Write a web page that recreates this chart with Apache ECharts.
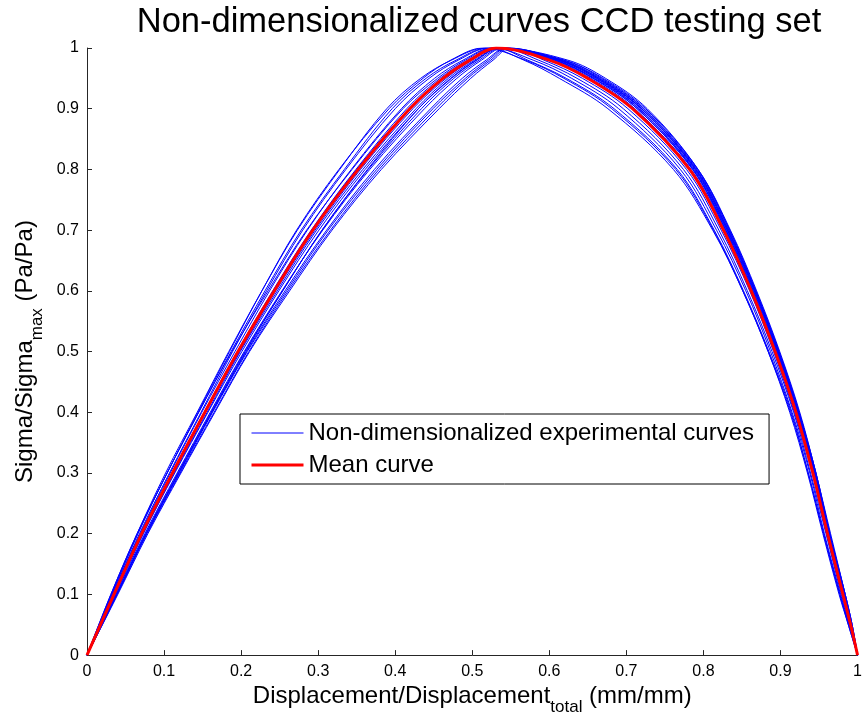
<!DOCTYPE html>
<html>
<head>
<meta charset="utf-8">
<script src="https://cdn.jsdelivr.net/npm/echarts@6/dist/echarts.min.js"></script>
<style>
  html, body { margin: 0; padding: 0; background: #fff; }
  #chart { width: 865px; height: 721px; }
</style>
</head>
<body>
<div id="chart"></div>
<script>
// Stress levels (Sigma/Sigma_max) at which each curve's displacement is sampled:
// rising branch up to the peak, then the falling branch back to zero.
const LEVELS = [0, 0.1, 0.2, 0.3, 0.4, 0.5, 0.6, 0.7, 0.8, 0.9, 0.95, 0.98, 1,
                0.98, 0.95, 0.9, 0.8, 0.7, 0.6, 0.5, 0.4, 0.3, 0.2, 0.1, 0.05, 0];

// Displacement/Displacement_total of each experimental curve at those levels
const EXP_01 = [0, .032,.066,.104,.144,.185,.227,.272,.327,.392,.436,.472,.514, .569,.619,.681,.764,.813,.851,.884,.913,.936,.956,.977,.988, 1];
const EXP_02 = [0, .031,.065,.102,.143,.184,.227,.273,.328,.389,.433,.473,.517, .611,.661,.717,.788,.831,.866,.896,.922,.944,.963,.983,.992, 1];
const EXP_03 = [0, .032,.066,.104,.145,.187,.231,.278,.334,.396,.440,.479,.520, .567,.613,.676,.761,.812,.851,.884,.912,.935,.955,.976,.988, 1];
const EXP_04 = [0, .033,.068,.107,.148,.189,.233,.280,.336,.400,.444,.482,.522, .618,.668,.723,.792,.834,.868,.898,.924,.946,.964,.984,.993, 1];
const EXP_05 = [0, .033,.069,.108,.149,.192,.237,.286,.343,.408,.451,.488,.526, .579,.629,.690,.770,.817,.855,.887,.915,.938,.957,.978,.989, 1];
const EXP_06 = [0, .031,.065,.104,.145,.188,.235,.285,.344,.410,.455,.491,.527, .614,.664,.720,.790,.832,.867,.897,.923,.945,.963,.983,.992, 1];
const EXP_07 = [0, .034,.070,.110,.152,.195,.241,.291,.349,.415,.458,.494,.529, .607,.657,.714,.786,.829,.864,.895,.922,.943,.962,.982,.992, 1];
const EXP_08 = [0, .036,.072,.112,.154,.196,.242,.292,.350,.418,.462,.497,.531, .572,.622,.684,.766,.814,.852,.885,.914,.936,.956,.977,.989, 1];
const EXP_09 = [0, .035,.072,.112,.154,.198,.245,.296,.355,.423,.466,.500,.533, .620,.670,.725,.793,.835,.869,.899,.925,.946,.965,.984,.993, 1];
const EXP_10 = [0, .036,.073,.113,.156,.199,.247,.298,.358,.427,.469,.503,.535, .604,.654,.711,.784,.828,.863,.894,.921,.943,.962,.982,.991, 1];
const EXP_11 = [0, .036,.073,.114,.157,.201,.249,.301,.361,.430,.473,.506,.536, .616,.666,.722,.791,.833,.867,.898,.924,.945,.964,.983,.992, 1];
const EXP_12 = [0, .039,.077,.119,.162,.206,.254,.305,.365,.434,.476,.509,.538, .586,.636,.696,.774,.820,.857,.889,.917,.939,.959,.979,.990, 1];
const EXP_13 = [0, .037,.075,.117,.160,.204,.253,.306,.367,.438,.480,.512,.540, .609,.659,.716,.787,.830,.865,.896,.922,.944,.963,.982,.992, 1];
const EXP_14 = [0, .038,.076,.118,.161,.205,.254,.305,.364,.430,.472,.505,.535, .624,.673,.727,.793,.834,.868,.898,.924,.946,.964,.984,.993, 1];
const EXP_15 = [0, .038,.077,.119,.162,.207,.257,.311,.373,.446,.487,.518,.544, .607,.657,.714,.786,.829,.864,.895,.922,.943,.962,.982,.992, 1];
const EXP_16 = [0, .039,.077,.120,.163,.208,.259,.313,.376,.449,.491,.521,.545, .614,.664,.720,.790,.832,.867,.897,.923,.945,.963,.983,.992, 1];
const EXP_17 = [0, .039,.078,.121,.165,.210,.261,.316,.379,.453,.494,.524,.547, .612,.662,.719,.789,.831,.866,.897,.923,.945,.963,.983,.992, 1];
const EXP_18 = [0, .040,.079,.122,.166,.211,.263,.318,.382,.457,.498,.527,.549, .593,.643,.702,.778,.823,.860,.891,.918,.941,.960,.980,.990, 1];

// Mean curve
const MEAN_X = [0, .035,.071,.111,.153,.196,.243,.293,.352,.419,.462,.497,.531, .600,.650,.708,.782,.826,.862,.893,.920,.942,.961,.981,.991, 1];

const EXPERIMENTS = [EXP_01, EXP_02, EXP_03, EXP_04, EXP_05, EXP_06, EXP_07, EXP_08, EXP_09,
                     EXP_10, EXP_11, EXP_12, EXP_13, EXP_14, EXP_15, EXP_16, EXP_17, EXP_18];

const TITLE = 'Non-dimensionalized curves CCD testing set';
const EXP_NAME = 'Non-dimensionalized experimental curves';
const MEAN_NAME = 'Mean curve';

const FONT = '"Liberation Sans", Arial, Helvetica, sans-serif';

function toPoints(xs) {
  return xs.map((x, i) => [x, LEVELS[i]]);
}

const series = EXPERIMENTS.map(xs => ({
  name: EXP_NAME,
  type: 'line',
  data: toPoints(xs),
  smooth: 0.35,
  symbol: 'none',
  lineStyle: { color: '#0000ff', width: 1 },
  itemStyle: { color: '#0000ff' },
  z: 2
}));

series.push({
  name: MEAN_NAME,
  type: 'line',
  data: toPoints(MEAN_X),
  smooth: 0.35,
  symbol: 'none',
  lineStyle: { color: '#ff0000', width: 3 },
  itemStyle: { color: '#ff0000' },
  z: 3
});

// Axis title with a subscript part
const nameStyle = {
  color: '#000',
  fontFamily: FONT,
  rich: {
    m: { fontSize: 24, verticalAlign: 'top', color: '#000', fontFamily: FONT },
    s: { fontSize: 17, verticalAlign: 'top', padding: [15, 0, 0, 0], color: '#000', fontFamily: FONT }
  }
};

const axisCommon = {
  type: 'value',
  min: 0,
  max: 1,
  interval: 0.1,
  splitLine: { show: false },
  axisLine: { show: true, lineStyle: { color: '#262626', width: 1 } },
  axisTick: { show: true, inside: true, length: 5, lineStyle: { color: '#262626' } },
  axisLabel: { color: '#000', fontSize: 16, fontFamily: FONT, margin: 8 }
};

const chart = echarts.init(document.getElementById('chart'), null, { renderer: 'canvas' });
chart.setOption({
  animation: false,
  backgroundColor: '#fff',
  title: {
    text: TITLE,
    left: 474,
    textAlign: 'center',
    top: 0,
    textStyle: { fontSize: 34.5, fontWeight: 'normal', color: '#000', fontFamily: FONT }
  },
  grid: { left: 87, right: 4, top: 48, bottom: 63, containLabel: false },
  legend: {
    data: [
      { name: EXP_NAME, lineStyle: { width: 1, color: '#0000ff' } },
      { name: MEAN_NAME, lineStyle: { width: 3, color: '#ff0000' } }
    ],
    orient: 'vertical',
    left: 240,
    top: 414,
    padding: [5, 15, 5, 10],
    itemWidth: 52,
    itemHeight: 14,
    itemGap: 4,
    itemStyle: { opacity: 0 },
    borderColor: '#000',
    borderWidth: 1,
    backgroundColor: '#fff',
    selectedMode: false,
    textStyle: { fontSize: 24, color: '#000', fontFamily: FONT, lineHeight: 28 }
  },
  xAxis: Object.assign({}, axisCommon, {
    name: '{m|Displacement/Displacement}{s|total}{m| (mm/mm)}',
    nameLocation: 'middle',
    nameGap: 24,
    nameTextStyle: nameStyle
  }),
  yAxis: Object.assign({}, axisCommon, {
    name: '{m|Sigma/Sigma}{s|max}{m| (Pa/Pa)}',
    nameLocation: 'middle',
    nameRotate: 90,
    nameGap: 40,
    nameTextStyle: nameStyle
  }),
  series: series
});
</script>
</body>
</html>
